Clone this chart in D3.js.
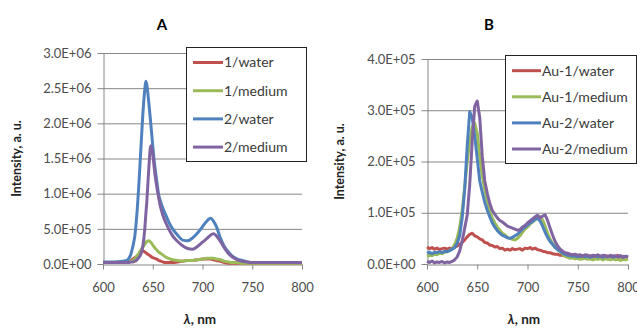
<!DOCTYPE html>
<html>
<head>
<meta charset="utf-8">
<script src="https://cdn.jsdelivr.net/npm/d3@7"></script>
<style>
  body { margin: 0; background: #fff; }
  svg { display: block; font-family: Lato, "Open Sans", sans-serif; }
</style>
</head>
<body>
<svg id="chart" width="637" height="328"></svg>
<script>
// ---- panel A: wavelengths (nm) and intensities (units of 1E+06) ----
const wlA = [600, 610, 620, 624, 626, 628, 630, 632, 634, 636,
             638, 640, 642, 643, 644, 646, 648, 650, 652, 654,
             656, 658, 660, 663, 666, 670, 675, 680, 685, 690,
             695, 700, 705, 708, 711, 714, 718, 722, 726, 730,
             735, 740, 745, 750, 760, 770, 780, 790, 800];
const a1Water = [.02, .02, .02, .03, .04, .05, .07, .09, .11, .14,
                 .17, .19, .17, .16, .15, .13, .11, .09, .08, .07,
                 .05, .04, .03, .02, .02, .02, .03, .04, .05, .05,
                 .06, .07, .07, .07, .06, .05, .04, .02, .01, .01,
                 .01, .01, .01, .01, .01, .01, .01, .01, .01];
const a1Medium = [.02, .02, .02, .03, .03, .04, .05, .07, .11, .15,
                  .20, .24, .28, .30, .32, .33, .31, .27, .23, .20,
                  .17, .15, .13, .10, .08, .06, .05, .04, .05, .05,
                  .06, .07, .08, .08, .08, .07, .06, .04, .03, .02,
                  .02, .01, .01, .01, .01, .01, .01, .01, .01];
const a2Water = [.03, .03, .04, .05, .08, .14, .25, .40, .70, 1.12,
                 1.62, 2.12, 2.48, 2.60, 2.55, 2.30, 2.00, 1.68, 1.40, 1.18,
                 .98, .88, .80, .70, .60, .50, .41, .34, .33, .37,
                 .44, .53, .62, .65, .61, .53, .37, .25, .17, .11,
                 .07, .05, .03, .02, .02, .02, .02, .02, .02];
const a2Medium = [.02, .02, .02, .02, .02, .03, .03, .04, .06, .09,
                  .14, .25, .50, .70, .88, 1.35, 1.68, 1.56, 1.30, 1.10,
                  .94, .80, .70, .59, .50, .40, .32, .26, .22, .21,
                  .25, .31, .37, .41, .43, .40, .32, .23, .15, .10,
                  .06, .04, .03, .02, .02, .02, .02, .02, .02];
const namesA = ["1/water", "1/medium", "2/water", "2/medium"];
const unitA = 1e6;
const yTicksA = [0, 0.5, 1.0, 1.5, 2.0, 2.5, 3.0];

// ---- panel B: wavelengths (nm) and intensities (units of 1E+05) ----
const wlB = [600, 602.5, 605, 607.5, 610, 612.5, 615, 617.5, 620, 622.5,
             625, 627.5, 630, 632.5, 635, 637.5, 640, 642.5, 645, 647.5,
             650, 652.5, 655, 657.5, 660, 662.5, 665, 667.5, 670, 672.5,
             675, 677.5, 680, 682.5, 685, 687.5, 690, 692.5, 695, 697.5,
             700, 702.5, 705, 707.5, 710, 712.5, 715, 717.5, 720, 722.5,
             725, 727.5, 730, 732.5, 735, 737.5, 740, 742.5, 745, 747.5,
             750, 752.5, 755, 757.5, 760, 762.5, 765, 767.5, 770, 772.5,
             775, 777.5, 780, 782.5, 785, 787.5, 790, 792.5, 795, 797.5,
             800];
const au1Water = [.33, .30, .32, .29, .31, .28, .30, .31, .29, .31,
                  .30, .33, .35, .38, .42, .47, .53, .58, .60, .55,
                  .53, .49, .47, .42, .41, .37, .36, .33, .34, .30,
                  .31, .27, .29, .27, .30, .28, .29, .30, .27, .31,
                  .30, .32, .29, .31, .28, .27, .25, .24, .22, .22,
                  .20, .19, .19, .17, .17, .16, .15, .16, .14, .15,
                  .14, .15, .13, .15, .14, .16, .14, .15, .13, .15,
                  .14, .16, .15, .14, .16, .14, .17, .13, .15, .14,
                  .12];
const au1Medium = [.15, .17, .16, .19, .18, .21, .20, .23, .24, .26,
                   .30, .38, .50, .72, 1.05, 1.50, 2.00, 2.40, 2.68, 2.75,
                   2.55, 2.10, 1.72, 1.45, 1.22, 1.02, .90, .80, .72, .66,
                   .60, .57, .52, .50, .48, .47, .50, .55, .62, .68,
                   .72, .78, .82, .86, .90, .92, .86, .74, .60, .48,
                   .40, .33, .28, .24, .19, .15, .13, .11, .12, .10,
                   .11, .09, .10, .11, .09, .10, .08, .10, .09, .11,
                   .08, .10, .09, .08, .10, .08, .09, .07, .09, .08,
                   .10];
const au2Water = [.21, .23, .20, .23, .22, .24, .22, .25, .24, .26,
                  .29, .32, .40, .55, .90, 1.45, 2.30, 2.97, 2.85, 2.50,
                  2.05, 1.62, 1.40, 1.20, 1.05, .92, .80, .72, .65, .60,
                  .56, .54, .51, .50, .52, .55, .58, .63, .68, .72,
                  .76, .80, .83, .87, .89, .84, .74, .62, .52, .44,
                  .38, .32, .28, .25, .21, .19, .17, .16, .15, .16,
                  .14, .15, .16, .14, .15, .13, .15, .16, .14, .15,
                  .13, .15, .14, .16, .13, .15, .14, .16, .13, .15,
                  .14];
const au2Medium = [.05, .03, .06, .02, .04, .03, .05, .02, .04, .03,
                   .05, .08, .14, .25, .45, .70, .95, 1.55, 2.40, 3.08,
                   3.18, 2.85, 2.10, 1.62, 1.38, 1.18, 1.04, .97, .90, .85,
                   .82, .78, .74, .72, .70, .68, .66, .67, .72, .75,
                   .80, .84, .88, .92, .95, .90, .93, .96, .85, .70,
                   .56, .44, .35, .29, .25, .22, .21, .19, .18, .19,
                   .17, .18, .16, .18, .17, .15, .17, .16, .18, .15,
                   .17, .16, .14, .17, .15, .16, .14, .16, .13, .15,
                   .14];
const namesB = ["Au-1/water", "Au-1/medium", "Au-2/water", "Au-2/medium"];
const unitB = 1e5;
const yTicksB = [0, 1, 2, 3, 4];

const xTicks = [600, 650, 700, 750, 800];
const colors = ["#C0504D", "#9BBB59", "#4F81BD", "#8064A2"];

const panels = [
  { title: "A", titleX: 162, wl: wlA, series: [a1Water, a1Medium, a2Water, a2Medium],
    names: namesA, unit: unitA, yTicks: yTicksA, curve: d3.curveMonotoneX,
    left: 103, right: 302, top: 53, bottom: 264,
    yTitleX: 17, xTitleX: 200,
    legend: { x: 186, y: 47, w: 120, h: 114, row0: 62.5, rowStep: 28.2, sample: 30 } },
  { title: "B", titleX: 489, wl: wlB, series: [au1Water, au1Medium, au2Water, au2Medium],
    names: namesB, unit: unitB, yTicks: yTicksB, curve: d3.curveLinear,
    left: 427, right: 628, top: 59, bottom: 264,
    yTitleX: 340, xTitleX: 524,
    legend: { x: 505, y: 55, w: 131, h: 108, row0: 70.7, rowStep: 26.1, sample: 29 } }
];

// 3.0E+06 style labels
function sci(v) {
  if (v === 0) return "0.0E+00";
  const e = Math.floor(Math.log10(v) + 1e-9);
  return (v / Math.pow(10, e)).toFixed(1) + "E+" + String(e).padStart(2, "0");
}

const svg = d3.select("#chart");
const grey = "#868686";

panels.forEach(p => {
  p.series.forEach((s, i) => {
    if (s.length !== p.wl.length) throw new Error(p.title + " series " + i + " has " + s.length + " vs " + p.wl.length);
  });

  const x = d3.scaleLinear().domain([600, 800]).range([p.left, p.right]);
  const y = d3.scaleLinear().domain([0, d3.max(p.yTicks) * p.unit]).range([p.bottom, p.top]);
  const g = svg.append("g");

  // gridlines
  g.append("g").selectAll("line")
    .data(p.yTicks.filter(t => t > 0))
    .join("line")
    .attr("x1", p.left).attr("x2", p.right)
    .attr("y1", t => y(t * p.unit) + 0.5).attr("y2", t => y(t * p.unit) + 0.5)
    .attr("stroke", grey).attr("stroke-width", 1);

  // axes
  const yAxis = g.append("g")
    .attr("transform", `translate(${p.left + 0.5},0)`)
    .call(d3.axisLeft(y).tickValues(p.yTicks.map(t => t * p.unit)).tickFormat(sci)
      .tickSize(6).tickSizeOuter(0).tickPadding(6));
  const xAxis = g.append("g")
    .attr("transform", `translate(0,${p.bottom + 0.5})`)
    .call(d3.axisBottom(x).tickValues(xTicks).tickFormat(d3.format("d"))
      .tickSize(5).tickSizeOuter(0).tickPadding(13));
  [yAxis, xAxis].forEach(a => {
    a.attr("font-family", null).attr("font-size", null);
    a.select(".domain").attr("stroke", grey);
    a.selectAll(".tick line").attr("stroke", grey);
    a.selectAll(".tick text").attr("fill", "#4d4d4d").style("font-size", "13px");
  });

  // spectra
  const line = d3.line()
    .x((d, i) => x(p.wl[i]))
    .y(d => y(d * p.unit))
    .curve(p.curve);
  p.series.forEach((s, i) => {
    g.append("path")
      .attr("d", line(s))
      .attr("fill", "none")
      .attr("stroke", colors[i])
      .attr("stroke-width", 3)
      .attr("stroke-linejoin", "round");
  });

  // titles
  g.append("text")
    .attr("x", p.titleX).attr("y", 30)
    .attr("text-anchor", "middle")
    .style("font-size", "15px").style("font-weight", "bold")
    .text(p.title);
  g.append("text")
    .attr("transform", `translate(${p.yTitleX},${(p.top + p.bottom) / 2}) rotate(-90)`)
    .attr("text-anchor", "middle").attr("dy", "0.35em")
    .style("font-size", "12.5px").style("font-weight", "bold").attr("fill", "#222")
    .text("Intensity, a. u.");
  const xt = g.append("text")
    .attr("x", p.xTitleX).attr("y", 324)
    .attr("text-anchor", "middle")
    .style("font-size", "13.5px").style("font-weight", "bold").attr("fill", "#222");
  xt.append("tspan").style("font-style", "italic").text("λ");
  xt.append("tspan").text(", nm");

  // legend
  const L = p.legend;
  const lg = g.append("g");
  lg.append("rect")
    .attr("x", L.x + 0.5).attr("y", L.y + 0.5).attr("width", L.w).attr("height", L.h)
    .attr("fill", "#fff").attr("stroke", "#222").attr("stroke-width", 1);
  p.names.forEach((name, i) => {
    const ry = L.row0 + i * L.rowStep;
    lg.append("line")
      .attr("x1", L.x + 7).attr("x2", L.x + 7 + L.sample)
      .attr("y1", ry).attr("y2", ry)
      .attr("stroke", colors[i]).attr("stroke-width", 3);
    lg.append("text")
      .attr("x", L.x + 8 + L.sample).attr("y", ry).attr("dy", "0.35em")
      .style("font-size", "14px").attr("fill", "#3a3a3a")
      .text(name);
  });
});
</script>
</body>
</html>
